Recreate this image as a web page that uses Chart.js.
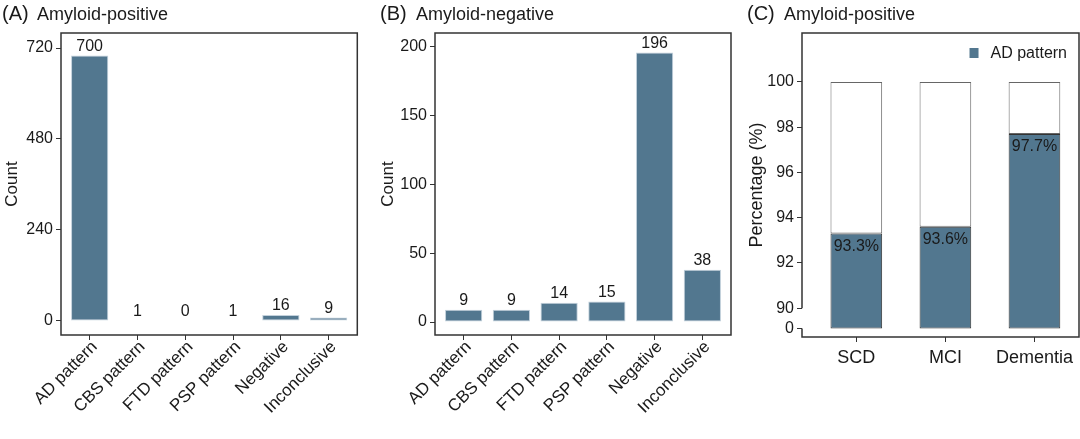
<!DOCTYPE html>
<html>
<head>
<meta charset="utf-8">
<script src="https://cdn.jsdelivr.net/npm/chart.js@4.4.1/dist/chart.umd.min.js"></script>
<style>
  html, body { margin: 0; padding: 0; background: #fff; }
  #wrap { position: relative; width: 1080px; height: 439px; overflow: hidden; }
  canvas { position: absolute; top: 0; }
</style>
</head>
<body>
<div id="wrap">
  <canvas id="chartA" width="362" height="439" style="left:0px"></canvas>
  <canvas id="chartB" width="370" height="439" style="left:362px"></canvas>
  <canvas id="chartC" width="348" height="439" style="left:732px"></canvas>
</div>
<script>
// data
const patterns = ['AD pattern', 'CBS pattern', 'FTD pattern', 'PSP pattern', 'Negative', 'Inconclusive'];
const positiveCounts = [700, 1, 0, 1, 16, 9];
const negativeCounts = [9, 9, 14, 15, 196, 38];
const countTicksA = [0, 240, 480, 720];
const countTicksB = [0, 50, 100, 150, 200];

const stages = ['SCD', 'MCI', 'Dementia'];
const adPercent = [93.3, 93.6, 97.7];
const percentTicks = [0, 90, 92, 94, 96, 98, 100];

const FONT = "'Liberation Sans', Arial, sans-serif";
const INK = '#1a1a1a';
const LINE = '#333333';
const BAR = '#52778f';

// where "0" sits on the broken percentage axis
const ZERO_POS = 89.11;

const panelTitle = {
  id: 'panelTitle',
  afterDraw(chart, args, opts) {
    const ctx = chart.ctx;
    ctx.save();
    ctx.fillStyle = INK;
    ctx.textBaseline = 'alphabetic';
    ctx.font = '20px ' + FONT;
    ctx.fillText(opts.tag, opts.x, 20);
    ctx.font = '18px ' + FONT;
    ctx.fillText(opts.text, opts.x2, 20);
    ctx.restore();
  }
};

const frame = {
  id: 'frame',
  afterDraw(chart, args, opts) {
    const { ctx, chartArea: a } = chart;
    ctx.save();
    ctx.strokeStyle = LINE;
    ctx.lineWidth = 1.5;
    ctx.beginPath();
    if (opts.broken) {
      const y = chart.scales.y;
      ctx.moveTo(a.left, y.getPixelForValue(90));
      ctx.lineTo(a.left, a.top);
      ctx.lineTo(a.right, a.top);
      ctx.lineTo(a.right, a.bottom);
      ctx.lineTo(a.left, a.bottom);
      ctx.lineTo(a.left, y.getPixelForValue(ZERO_POS));
    } else {
      ctx.rect(a.left, a.top, a.right - a.left, a.bottom - a.top);
    }
    ctx.stroke();
    ctx.restore();
  }
};

const valueLabels = {
  id: 'valueLabels',
  afterDatasetsDraw(chart, args, opts) {
    const ctx = chart.ctx;
    const meta = chart.getDatasetMeta(0);
    const data = chart.data.datasets[0].data;
    ctx.save();
    ctx.fillStyle = INK;
    ctx.font = '16px ' + FONT;
    ctx.textAlign = 'center';
    meta.data.forEach((bar, i) => {
      const v = data[i].y;
      if (opts.inside) {
        ctx.textBaseline = 'top';
        ctx.fillText(v[1].toFixed(1) + '%', bar.x, bar.y + 5);
      } else {
        ctx.textBaseline = 'bottom';
        ctx.fillText(String(v), bar.x, bar.y - 1);
      }
    });
    ctx.restore();
  }
};

// small legend drawn in the top-right corner of the plot area
const cornerLegend = {
  id: 'cornerLegend',
  afterDraw(chart, args, opts) {
    if (!opts.show) return;
    const { ctx, chartArea: a } = chart;
    const ds = chart.data.datasets[0];
    ctx.save();
    ctx.font = '16px ' + FONT;
    const w = ctx.measureText(ds.label).width;
    const tx = a.right - 12 - w;
    const ty = 58;
    ctx.fillStyle = ds.backgroundColor;
    ctx.fillRect(tx - 21, ty - 10, 9, 10);
    ctx.fillStyle = INK;
    ctx.textBaseline = 'alphabetic';
    ctx.fillText(ds.label, tx, ty);
    ctx.restore();
  }
};

function countChart(id, counts, yTicks, yMin, yMax, yWidth, padRight, titleOpts, titlePad) {
  return new Chart(document.getElementById(id), {
    type: 'bar',
    data: {
      datasets: [{
        data: counts.map((v, i) => ({ x: i + 1, y: v })),
        backgroundColor: BAR,
        borderColor: '#c3d1dc',
        borderWidth: 1,
        borderSkipped: false,
        barPercentage: 0.78,
        categoryPercentage: 1
      }]
    },
    options: {
      responsive: false,
      animation: false,
      layout: { padding: { top: 33, right: padRight, bottom: 0, left: 0 } },
      plugins: {
        legend: { display: false },
        tooltip: { enabled: false },
        panelTitle: titleOpts,
        frame: {},
        valueLabels: {}
      },
      scales: {
        x: {
          type: 'linear',
          offset: false,
          min: 0.4,
          max: 6.6,
          afterBuildTicks: s => { s.ticks = patterns.map((p, i) => ({ value: i + 1 })); },
          afterFit: s => { s.height = 439 - 335; },
          grid: { display: true, offset: false, drawOnChartArea: false, tickLength: 5, color: LINE, tickColor: LINE },
          border: { display: false },
          ticks: {
            autoSkip: false,
            minRotation: 45,
            maxRotation: 45,
            padding: -3,
            labelOffset: 5,
            color: INK,
            font: { family: FONT, size: 17 },
            callback: v => patterns[v - 1]
          }
        },
        y: {
          min: yMin,
          max: yMax,
          afterBuildTicks: s => { s.ticks = yTicks.map(v => ({ value: v })); },
          afterFit: s => { s.width = yWidth; },
          grid: { display: true, drawOnChartArea: false, tickLength: 5, color: LINE, tickColor: LINE },
          border: { display: false },
          ticks: { padding: 3, color: INK, font: { family: FONT, size: 16 } },
          title: { display: true, text: 'Count', color: INK, font: { family: FONT, size: 17 }, padding: { top: titlePad, bottom: 0 } }
        }
      }
    },
    plugins: [panelTitle, frame, valueLabels]
  });
}

countChart('chartA', positiveCounts, countTicksA, -37, 759.6, 61, 4.7,
  { tag: '(A)', text: 'Amyloid-positive', x: 2, x2: 37 }, 2);
countChart('chartB', negativeCounts, countTicksB, -9.4, 210.1, 73, 1,
  { tag: '(B)', text: 'Amyloid-negative', x: 18, x2: 54 }, 16);

new Chart(document.getElementById('chartC'), {
  type: 'bar',
  data: {
    datasets: [{
      label: 'AD pattern',
      data: adPercent.map((v, i) => ({ x: i + 1, y: [ZERO_POS, v] })),
      backgroundColor: BAR,
      borderColor: '#333333',
      borderWidth: 1,
      borderSkipped: false,
      grouped: false,
      barPercentage: 0.58,
      categoryPercentage: 1
    }, {
      label: 'Other',
      data: adPercent.map((v, i) => ({ x: i + 1, y: [v, 100] })),
      backgroundColor: '#ffffff',
      borderColor: '#666666',
      borderWidth: 1,
      borderSkipped: false,
      grouped: false,
      barPercentage: 0.58,
      categoryPercentage: 1
    }]
  },
  options: {
    responsive: false,
    animation: false,
    layout: { padding: { top: 33, right: 1, bottom: 0, left: 0 } },
    plugins: {
      legend: { display: false },
      tooltip: { enabled: false },
      panelTitle: { tag: '(C)', text: 'Amyloid-positive', x: 15, x2: 52 },
      frame: { broken: true },
      valueLabels: { inside: true },
      cornerLegend: { show: true }
    },
    scales: {
      x: {
        type: 'linear',
        offset: false,
        min: 0.39,
        max: 3.5,
        afterBuildTicks: s => { s.ticks = stages.map((p, i) => ({ value: i + 1 })); },
        afterFit: s => { s.height = 439 - 337; },
        grid: { display: true, offset: false, drawOnChartArea: false, tickLength: 5, color: LINE, tickColor: LINE },
        border: { display: false },
        ticks: {
          autoSkip: false,
          maxRotation: 0,
          padding: 5,
          color: INK,
          font: { family: FONT, size: 18 },
          callback: v => stages[v - 1]
        }
      },
      y: {
        min: 88.73,
        max: 102.16,
        afterBuildTicks: s => { s.ticks = percentTicks.map(v => ({ value: v === 0 ? ZERO_POS : v })); },
        afterFit: s => { s.width = 70; },
        grid: { display: true, drawOnChartArea: false, tickLength: 5, color: LINE, tickColor: LINE },
        border: { display: false },
        ticks: {
          padding: 3,
          color: INK,
          font: { family: FONT, size: 16 },
          callback: (v, i) => String(percentTicks[i])
        },
        title: { display: true, text: 'Percentage (%)', color: INK, font: { family: FONT, size: 18 }, padding: { top: 14, bottom: 0 } }
      }
    }
  },
  plugins: [panelTitle, frame, valueLabels, cornerLegend]
});
</script>
</body>
</html>
